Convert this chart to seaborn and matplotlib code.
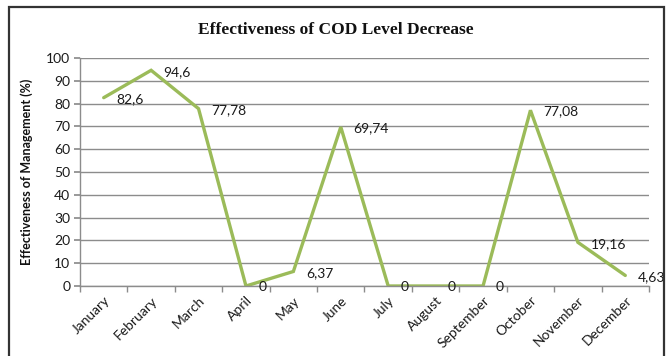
import matplotlib
matplotlib.use("Agg")
import matplotlib.pyplot as plt
import seaborn as sns
import pandas as pd
from matplotlib.patches import Rectangle

months = ["January", "February", "March", "April", "May", "June", "July",
          "August", "September", "October", "November", "December"]
effectiveness = [82.6, 94.6, 77.78, 0, 6.37, 69.74, 0, 0, 0, 77.08, 19.16, 4.63]
value_labels = ["82,6", "94,6", "77,78", "0", "6,37", "69,74", "0", "0", "0",
                "77,08", "19,16", "4,63"]
y_ticks = [0, 10, 20, 30, 40, 50, 60, 70, 80, 90, 100]

sns.set_theme(style="white")
plt.rcParams["font.family"] = ["Lato", "DejaVu Sans"]

df = pd.DataFrame({"month": months, "pos": range(len(months)), "value": effectiveness})

fig = plt.figure(figsize=(6.67, 3.56), dpi=100)
ax = fig.add_axes([80 / 667, 1 - 286 / 356, (649 - 80) / 667, (286 - 58) / 356])

sns.lineplot(data=df, x="pos", y="value", ax=ax, color="#9BBB59",
             linewidth=2.4, solid_joinstyle="miter", legend=False)

for x, y, lab in zip(df["pos"], df["value"], value_labels):
    ax.annotate(lab, (x, y), xytext=(9, -1), textcoords="offset points",
                ha="left", va="center", fontsize=10, color="#1a1a1a")

ax.set_xlim(-0.5, len(months) - 0.5)
ax.set_ylim(0, 100)
ax.set_yticks(y_ticks)
ax.set_yticklabels([str(t) for t in y_ticks], fontsize=10, color="#1a1a1a")
ax.yaxis.grid(True, color="#8c8c8c", linewidth=1.0)
ax.set_axisbelow(True)

ax.set_xticks(range(len(months)))
ax.set_xticklabels(months, rotation=45, ha="right", rotation_mode="anchor",
                   fontsize=10, color="#1a1a1a")
ax.tick_params(axis="x", length=0, pad=6)
ax.tick_params(axis="y", length=4, color="#8c8c8c", left=True, pad=3)
# Tick marks between categories
ax.set_xticks([i - 0.5 for i in range(len(months) + 1)], minor=True)
ax.tick_params(axis="x", which="minor", length=4, color="#8c8c8c", bottom=True)

for side in ["top", "right"]:
    ax.spines[side].set_visible(False)
for side in ["left", "bottom"]:
    ax.spines[side].set_color("#8c8c8c")
    ax.spines[side].set_linewidth(1.0)

ax.set_xlabel("")
ax.set_ylabel("Effectiveness of Management (%)", fontsize=9, fontweight="bold",
              color="#111111")
ax.yaxis.set_label_coords(-0.083, 0.5)

fig.text(0.503, 1 - 30 / 356, "Effectiveness of COD Level Decrease",
         ha="center", va="center", fontsize=12.5, fontweight="bold",
         family="Liberation Serif", color="#111111")

# Chart frame
frame = Rectangle((9 / 667, -0.02), (664 - 9) / 667, 1.02 - 7 / 356,
                  transform=fig.transFigure, fill=False, edgecolor="#333333",
                  linewidth=1.6, clip_on=False)
fig.patches.append(frame)

fig.savefig("out.png", dpi=100)
